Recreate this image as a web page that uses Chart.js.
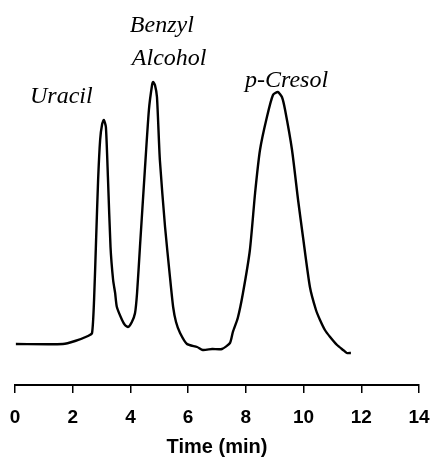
<!DOCTYPE html>
<html>
<head>
<meta charset="utf-8">
<script src="https://cdn.jsdelivr.net/npm/chart.js@4"></script>
<style>
  html, body { margin: 0; padding: 0; background: #fff; }
  .chart-container { width: 431px; height: 462px; }
</style>
</head>
<body>
<div class="chart-container"><canvas id="myChart"></canvas></div>
<script>
// retention time (min) and detector response (arbitrary units)
const times = [0.03, 1.66, 2.08, 2.53, 2.67, 2.74, 2.81, 2.88, 2.95, 3.02, 3.08, 3.15, 3.22, 3.31, 3.40, 3.47, 3.53, 3.71, 3.81, 3.92,
  4.05, 4.16, 4.23, 4.33, 4.50, 4.64, 4.75, 4.79, 4.85, 4.92, 5.02, 5.20, 5.37, 5.48, 5.58, 5.72, 5.96, 6.31, 6.51, 6.83,
  7.17, 7.45, 7.55, 7.72, 7.90, 8.14, 8.32, 8.49, 8.73, 8.94, 9.11, 9.25, 9.36, 9.60, 9.81, 9.98, 10.22, 10.43, 10.57, 10.74,
  10.92, 11.16, 11.37, 11.50, 11.64];
const response = [41, 41, 44, 49, 52, 85, 145, 205, 245, 261, 265, 258, 208, 138, 105, 92, 78, 65, 60, 58,
  63, 72, 92, 138, 215, 275, 300, 303, 300, 288, 225, 158, 108, 78, 63, 52, 41, 38, 35, 36,
  36, 42, 53, 67, 92, 135, 192, 235, 268, 290, 293, 288, 275, 235, 185, 148, 98, 75, 65, 55,
  48, 40, 35, 32, 32];

const xTicks = [0, 2, 4, 6, 8, 10, 12, 14];

// peak labels (placed in data units)
const peakNames = ["Uracil", "Benzyl", "Alcohol", "p-Cresol"];
const peakLabelX = [0.52, 3.98, 4.05, 7.97];
const peakLabelY = [282, 353, 320, 298];

const peakLabels = {
  id: "peakLabels",
  afterDatasetsDraw(chart) {
    const ctx = chart.ctx;
    const xs = chart.scales.x;
    const ys = chart.scales.y;
    ctx.save();
    ctx.fillStyle = "#000";
    ctx.font = "italic 24px 'Liberation Serif', 'Times New Roman', serif";
    ctx.textAlign = "left";
    ctx.textBaseline = "alphabetic";
    for (let i = 0; i < peakNames.length; i++) {
      ctx.fillText(peakNames[i], xs.getPixelForValue(peakLabelX[i]), ys.getPixelForValue(peakLabelY[i]));
    }
    ctx.restore();
  },
};

const points = times.map((t, i) => ({ x: t, y: response[i] }));

const ctx = document.getElementById("myChart").getContext("2d");
const chromChart = new Chart(ctx, {
  type: "line",
  data: {
    datasets: [
      {
        data: points,
        borderColor: "#000",
        borderWidth: 2.4,
        pointRadius: 0,
        tension: 0.2,
        fill: false,
      },
    ],
  },
  options: {
    responsive: true,
    maintainAspectRatio: false,
    animation: false,
    layout: { padding: { left: 15, right: 12, top: 0, bottom: 0 } },
    plugins: {
      legend: { display: false },
      tooltip: { enabled: false },
    },
    scales: {
      x: {
        type: "linear",
        min: 0,
        max: 14,
        afterBuildTicks: (scale) => {
          scale.ticks = xTicks.map((v) => ({ value: v }));
        },
        afterFit: (scale) => {
          scale.height = 77;
          scale.paddingLeft = 0;
          scale.paddingRight = 0;
        },
        border: { display: true, color: "#000", width: 2 },
        grid: { drawOnChartArea: false, drawTicks: true, tickLength: 8, color: "#000", lineWidth: 1.5 },
        ticks: {
          color: "#000",
          padding: 13,
          maxRotation: 0,
          font: { family: "'Liberation Sans', Arial, sans-serif", size: 19, weight: "bold" },
        },
        title: {
          display: true,
          text: "Time (min)",
          color: "#000",
          padding: { top: 0, bottom: 3 },
          font: { family: "'Liberation Sans', Arial, sans-serif", size: 20, weight: "bold" },
        },
      },
      y: {
        display: false,
        min: 0,
        max: 385,
      },
    },
  },
  plugins: [peakLabels],
});
</script>
</body>
</html>
